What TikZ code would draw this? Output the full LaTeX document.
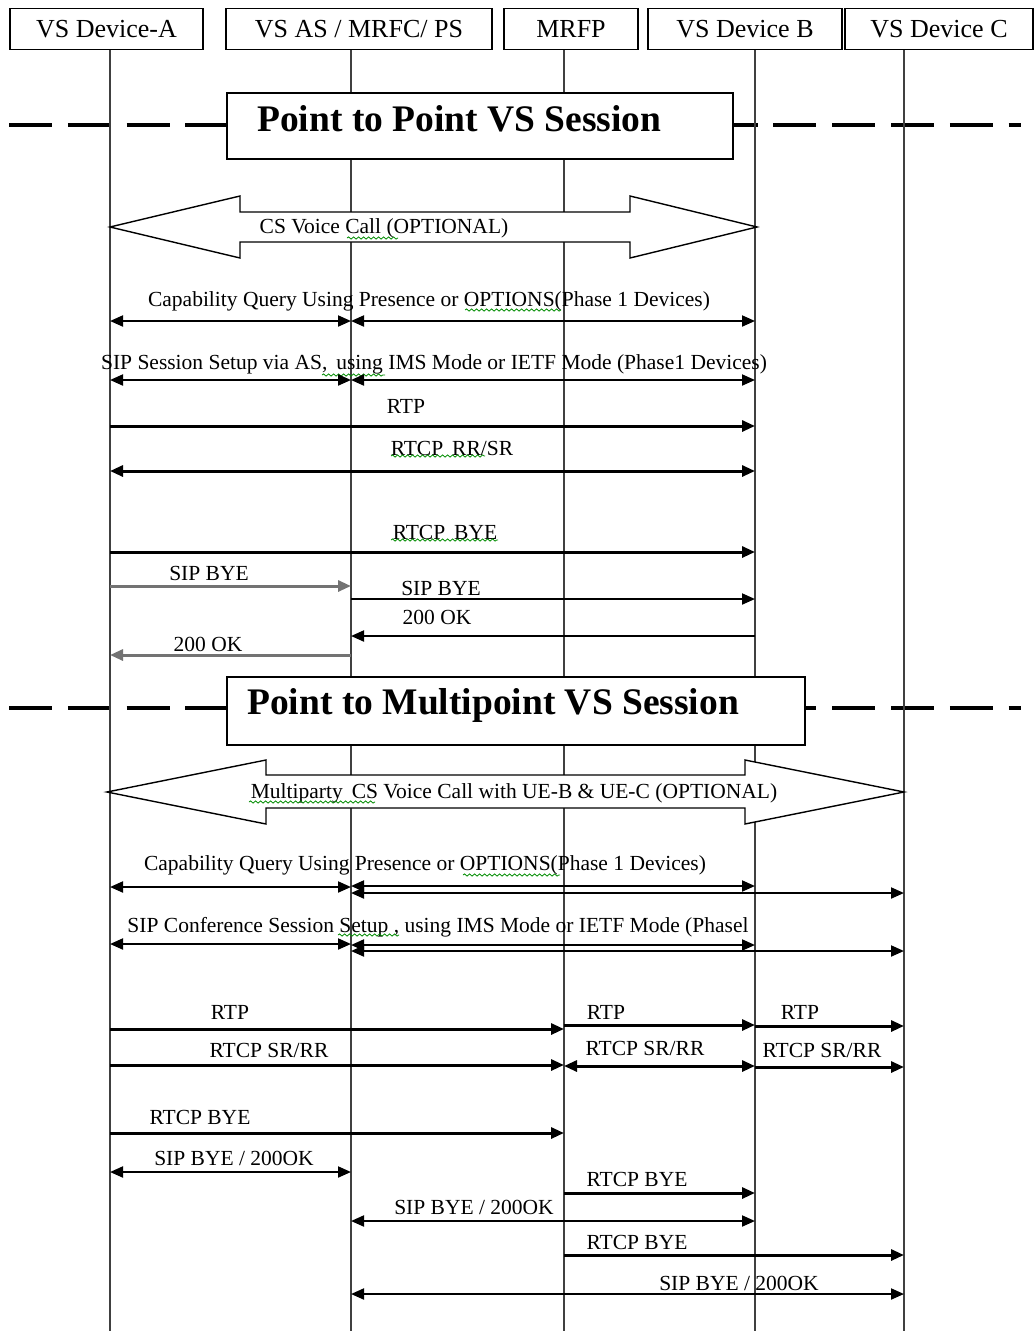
\documentclass[tikz,border=0pt]{standalone}
\usepackage{fontspec}
\setmainfont{Liberation Serif}
\usetikzlibrary{arrows.meta,decorations.pathmorphing}
\tikzset{
  hdr/.style={draw, line width=1.4pt, minimum height=41pt, inner sep=0pt, font=\fontsize{26}{29}\selectfont},
  life/.style={line width=1.4pt, draw=black!75},
  lbl/.style={inner sep=0pt, font=\fontsize{21.5}{24}\selectfont},
  tipA/.style={-{Triangle[length=13pt,width=11pt]}},
  tipB/.style={{Triangle[length=13pt,width=11pt]}-{Triangle[length=13pt,width=11pt]}},
  msg/.style={line width=2pt, tipA},
  dmsg/.style={line width=2pt, tipB},
  heavy/.style={line width=3pt},
  greyline/.style={draw=black!55},
  banner/.style={draw, fill=white, line width=1.4pt, inner sep=0pt},
  btxt/.style={anchor=west, inner sep=0pt, font=\fontsize{37.5}{42}\selectfont\bfseries},
  sepline/.style={line width=3.5pt, dash pattern=on 43pt off 15.8pt},
  bigarrow/.style={draw, fill=white, line width=1.4pt, line join=miter},
  squig/.style={draw=green!55!black, line width=0.8pt, decorate, decoration={snake, amplitude=1.1pt, segment length=5pt}}
}
\begin{document}
\begin{tikzpicture}[x=1pt,y=-1pt]
\useasboundingbox (0,0) rectangle (1035,1331);

% lifeline anchors
\coordinate (lA)  at (110,49);
\coordinate (lAS) at (351,49);
\coordinate (lM)  at (564,49);
\coordinate (lB)  at (755,49);
\coordinate (lC)  at (904,49);

% separators
\draw[sepline] (9,125) -- (1021,125);
\draw[sepline] (9,708) -- (1021,708);

% lifelines
\foreach \l in {lA,lAS,lM,lB,lC}{
  \draw[life] (\l) -- (\l |- 0,1331);
}

% header boxes
\node[hdr, minimum width=193pt] (hA)  at (106.5,29) {VS Device-A};
\node[hdr, minimum width=266pt] (hAS) at (359,29)   {VS AS / MRFC/ PS};
\node[hdr, minimum width=134pt] (hM)  at (571,29)   {MRFP};
\node[hdr, minimum width=194pt] (hB)  at (745,29)   {VS Device B};
\node[hdr, minimum width=188pt] (hC)  at (939,29)   {VS Device C};

% ===== Point to Point =====
\node[banner, minimum width=506pt, minimum height=66pt] (b1) at (480,126) {};
\node[btxt] (b1t) at (257,119) {Point to Point VS Session};

\path[bigarrow] (110,227) -- (240,196) -- (240,212) -- (630,212) -- (630,196) -- (757,227)
  -- (630,258) -- (630,242) -- (240,242) -- (240,258) -- cycle;
\node[lbl] (cs1) at (384,228) {CS Voice Call (OPTIONAL)};
\draw[squig] (347,238) -- (398,238);

\node[lbl] (t1) at (429,301) {Capability Query Using Presence or OPTIONS(Phase 1 Devices)};
\draw[squig] (465,310) -- (561,310);
\draw[dmsg] (lA |- 0,321) -- (lAS |- 0,321);
\draw[dmsg] (lAS |- 0,321) -- (lB |- 0,321);

\node[lbl] (t2) at (434,364) {SIP Session Setup via AS,\, using IMS Mode or IETF Mode (Phase1 Devices)};
\draw[squig] (322,375) -- (385,375);
\draw[dmsg] (lA |- 0,380) -- (lAS |- 0,380);
\draw[dmsg] (lAS |- 0,380) -- (lB |- 0,380);

\node[lbl] (t3) at (406,406) {RTP};
\draw[msg, heavy] (lA |- 0,426) -- (lB |- 0,426);

\node[lbl] (t4) at (452,448) {RTCP\, RR/SR};
\draw[squig] (391,456) -- (485,456);
\draw[dmsg, heavy] (lA |- 0,471) -- (lB |- 0,471);

\node[lbl] (t5) at (445,532) {RTCP\, BYE};
\draw[squig] (391,540) -- (498,540);
\draw[msg, heavy] (lA |- 0,552) -- (lB |- 0,552);

\node[lbl] (t6) at (209,573) {SIP BYE};
\draw[msg, heavy, greyline] (lA |- 0,586) -- (lAS |- 0,586);

\node[lbl] (t7) at (441,588) {SIP BYE};
\draw[msg] (lAS |- 0,599) -- (lB |- 0,599);

\node[lbl] (t8) at (437,617) {200 OK};
\draw[msg] (lB |- 0,636) -- (lAS |- 0,636);

\node[lbl] (t9) at (208,644) {200 OK};
\draw[msg, heavy, greyline] (lAS |- 0,655) -- (lA |- 0,655);

% ===== Point to Multipoint =====
\node[banner, minimum width=578pt, minimum height=68pt] (b2) at (516,711) {};
\node[btxt] (b2t) at (247,705) {Point to Multipoint VS Session};

\path[bigarrow] (107,792) -- (266,760) -- (266,775) -- (745,775) -- (745,760) -- (904,792)
  -- (745,824) -- (745,808) -- (266,808) -- (266,824) -- cycle;
\node[lbl] (cs2) at (514,793) {Multiparty\, CS Voice Call with UE-B \& UE-C (OPTIONAL)};
\draw[squig] (249,802) -- (375,802);

\node[lbl] (u1) at (425,865) {Capability Query Using Presence or OPTIONS(Phase 1 Devices)};
\draw[squig] (463,875) -- (560,875);
\draw[dmsg] (lA |- 0,887) -- (lAS |- 0,887);
\draw[dmsg] (lAS |- 0,886) -- (lB |- 0,886);
\draw[dmsg] (lAS |- 0,893) -- (lC |- 0,893);

\node[lbl] (u2) at (438,927) {SIP Conference Session Setup , using IMS Mode or IETF Mode (Phasel};
\draw[squig] (338,935) -- (399,935);
\draw[dmsg] (lA |- 0,944) -- (lAS |- 0,944);
\draw[dmsg] (lAS |- 0,945) -- (lB |- 0,945);
\draw[dmsg] (lAS |- 0,951) -- (lC |- 0,951);

\node[lbl] (u3) at (230,1012) {RTP};
\draw[msg, heavy] (lA |- 0,1029) -- (lM |- 0,1029);
\node[lbl] (u4) at (606,1012) {RTP};
\draw[msg, heavy] (lM |- 0,1025) -- (lB |- 0,1025);
\node[lbl] (u5) at (800,1012) {RTP};
\draw[msg, heavy] (lB |- 0,1026) -- (lC |- 0,1026);

\node[lbl] (u6) at (269,1050) {RTCP SR/RR};
\draw[msg, heavy] (lA |- 0,1065) -- (lM |- 0,1065);
\node[lbl] (u7) at (645,1048) {RTCP SR/RR};
\draw[dmsg, heavy] (lM |- 0,1066) -- (lB |- 0,1066);
\node[lbl] (u8) at (822,1050) {RTCP SR/RR};
\draw[msg, heavy] (lB |- 0,1067) -- (lC |- 0,1067);

\node[lbl] (u9) at (200,1117) {RTCP BYE};
\draw[msg, heavy] (lA |- 0,1133) -- (lM |- 0,1133);

\node[lbl] (u10) at (234,1158) {SIP BYE / 200OK};
\draw[dmsg] (lA |- 0,1172) -- (lAS |- 0,1172);

\node[lbl] (u11) at (637,1179) {RTCP BYE};
\draw[msg, heavy] (lM |- 0,1193) -- (lB |- 0,1193);

\node[lbl] (u12) at (474,1207) {SIP BYE / 200OK};
\draw[dmsg] (lAS |- 0,1221) -- (lB |- 0,1221);

\node[lbl] (u13) at (637,1242) {RTCP BYE};
\draw[msg, heavy] (lM |- 0,1255) -- (lC |- 0,1255);

\node[lbl] (u14) at (739,1283) {SIP BYE / 200OK};
\draw[dmsg] (lAS |- 0,1294) -- (lC |- 0,1294);

\end{tikzpicture}
\end{document}
